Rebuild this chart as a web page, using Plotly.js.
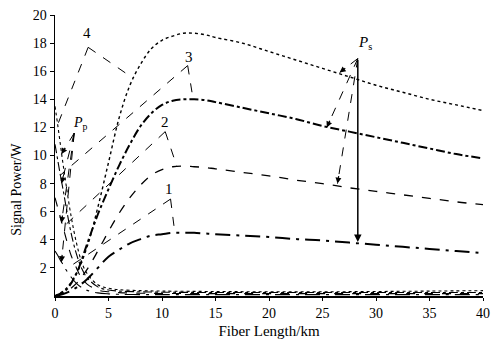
<!DOCTYPE html>
<html>
<head>
<meta charset="utf-8">
<script src="https://cdn.plot.ly/plotly-3.0.1.min.js"></script>
<style>html,body{margin:0;padding:0;background:#fff}#chart{width:492px;height:344px}</style>
</head>
<body>
<div id="chart"></div>
<script>
// Fiber length grid for signal curves (km)
const lengthSig = [0,1,2,3,4,5,6,7,8,9,10,11,12,13,14,15,17.5,20,22.5,25,27.5,30,32.5,35,37.5,40];
// Signal power (W) for cases 1..4
const signal1 = [0,0.2,0.6,1.2,2.0,2.8,3.3,3.75,4.05,4.3,4.4,4.5,4.5,4.5,4.45,4.4,4.3,4.2,4.05,3.95,3.8,3.65,3.5,3.35,3.2,3.05];
const signal2 = [0,0.3,0.9,1.9,3.2,4.6,5.9,7.0,7.9,8.6,9.0,9.2,9.25,9.2,9.15,9.05,8.8,8.55,8.25,8.0,7.7,7.45,7.2,6.95,6.7,6.5];
const signal3 = [0,0.4,1.6,3.7,5.8,7.6,9.3,10.8,12.1,13.0,13.6,13.9,14.0,14.0,13.95,13.8,13.4,13.0,12.6,12.1,11.7,11.3,10.9,10.5,10.1,9.8];
const signal4 = [0,0.5,1.6,3.5,6.3,9.5,12.7,15.0,16.5,17.6,18.2,18.5,18.7,18.7,18.6,18.4,18.0,17.4,16.8,16.2,15.6,15.0,14.5,14.0,13.6,13.2];
// Fiber length grid for pump curves (km)
const lengthPump = [0,0.25,0.5,0.75,1,1.5,2,2.5,3,4,5,6,8,10,15,20,25,30,35,40];
// Pump power (W) for cases 1..4
const pump1 = [3.2,2.9,2.55,2.25,1.9,1.35,0.9,0.6,0.4,0.22,0.15,0.12,0.1,0.1,0.1,0.1,0.1,0.1,0.1,0.1];
const pump2 = [7.0,6.3,5.6,4.9,4.2,2.9,2.0,1.25,0.85,0.42,0.3,0.24,0.2,0.18,0.17,0.17,0.17,0.17,0.17,0.17];
const pump3 = [10.8,9.7,8.6,7.6,6.5,4.5,3.0,1.95,1.3,0.65,0.43,0.35,0.3,0.27,0.25,0.25,0.25,0.25,0.25,0.25];
const pump4 = [13.5,12.2,10.8,9.4,8.1,5.7,3.8,2.4,1.6,0.8,0.55,0.45,0.38,0.35,0.32,0.3,0.3,0.32,0.35,0.38];
const xTicks = [0,5,10,15,20,25,30,35,40];
const yTicks = [2,4,6,8,10,12,14,16,18,20];

const black = '#000';
const sigStyles = [
  {dash:'longdashdot', width:2},
  {dash:'dash', width:1.3},
  {dash:'dashdot', width:2},
  {dash:'dot', width:1.4}
];
const sigs = [signal1, signal2, signal3, signal4];
const pumps = [pump1, pump2, pump3, pump4];
const traces = [];
sigs.forEach((s,i)=>traces.push({x:lengthSig, y:s, mode:'lines', line:{color:black, dash:sigStyles[i].dash, width:sigStyles[i].width, shape:'spline'}, showlegend:false, hoverinfo:'skip'}));
pumps.forEach((p,i)=>traces.push({x:lengthPump, y:p, mode:'lines', line:{color:black, dash:sigStyles[i].dash, width:1.1, shape:'spline'}, showlegend:false, hoverinfo:'skip'}));

const font = {family:'"Liberation Serif", "DejaVu Serif", serif', size:14, color:black};
const pxX = 10.7, pxY = 14.05;
const shapes = [];
const annotations = [];
function dashedArrow(x0,y0,x1,y1,withHead){
  shapes.push({type:'line', xref:'x', yref:'y', x0:x0, y0:y0, x1:x1, y1:y1, line:{color:black, width:1, dash:'dash'}});
  if(withHead){
    const dx=(x0-x1)*pxX, dy=-(y0-y1)*pxY, L=Math.hypot(dx,dy);
    annotations.push({x:x1, y:y1, xref:'x', yref:'y', ax:dx/L*9, ay:dy/L*9, text:'', showarrow:true, arrowhead:2, arrowsize:1, arrowwidth:1.2, arrowcolor:black});
  }
}
// Leader lines from curve-number labels
const labels = [
  {t:'4', x:3.0, y:18.7, tail:[3.1,17.7], ends:[[0.25,12.2],[7.3,15.5]]},
  {t:'3', x:12.5, y:17.0, tail:[12.4,16.4], ends:[[0.5,8.6],[12.9,14.05]]},
  {t:'2', x:10.3, y:12.4, tail:[10.3,11.7], ends:[[0.75,4.9],[11.4,9.2]]},
  {t:'1', x:10.7, y:7.6, tail:[10.8,6.9], ends:[[1.0,1.9],[11.2,4.5]]}
];
labels.forEach(l=>{
  annotations.push({x:l.x, y:l.y, xref:'x', yref:'y', text:l.t, showarrow:false, font:{...font, size:15}});
  l.ends.forEach(e=>dashedArrow(l.tail[0], l.tail[1], e[0], e[1], false));
});
// Pp arrows
annotations.push({x:2.4, y:12.3, xref:'x', yref:'y', text:'<i>P</i><sub>p</sub>', showarrow:false, font:{...font, size:14}});
[[0.6,10.1],[0.6,8.0],[0.6,5.2],[0.6,2.4]].forEach(e=>dashedArrow(1.8,11.6,e[0],e[1],true));
// Ps arrows
annotations.push({x:29.0, y:18.0, xref:'x', yref:'y', text:'<i>P</i><sub>s</sub>', showarrow:false, font:{...font, size:15}});
[[26.6,15.9],[25.4,12.0],[26.4,8.0]].forEach(e=>dashedArrow(28.3,16.9,e[0],e[1],true));
annotations.push({x:28.3, y:3.85, xref:'x', yref:'y', ax:28.3, ay:16.9, axref:'x', ayref:'y', text:'', showarrow:true, arrowhead:2, arrowsize:1, arrowwidth:1.5, arrowcolor:black});
// Y axis title (placed lower, as in the reference)
annotations.push({xref:'paper', yref:'paper', x:-0.09, y:0.38, text:'Signal Power/W', textangle:-90, showarrow:false, xanchor:'center', yanchor:'middle', font:{...font, size:14}});

const layout = {
  width:492, height:344,
  margin:{l:55, r:9, t:15, b:48},
  paper_bgcolor:'#fff', plot_bgcolor:'#fff',
  font:font,
  xaxis:{range:[0,40], tickvals:xTicks, showgrid:false, zeroline:false, showline:true, linecolor:black, linewidth:2, ticks:'outside', ticklen:3, tickcolor:black, mirror:false,
         title:{text:'Fiber Length/km', font:{...font, size:15}, standoff:6}},
  yaxis:{range:[0,20], tickvals:yTicks, showgrid:false, zeroline:false, showline:true, linecolor:black, linewidth:1.5, ticks:'outside', ticklen:4, tickcolor:black, mirror:false},
  shapes:shapes, annotations:annotations
};
Plotly.newPlot('chart', traces, layout, {staticPlot:true, displayModeBar:false});
</script>
</body>
</html>
